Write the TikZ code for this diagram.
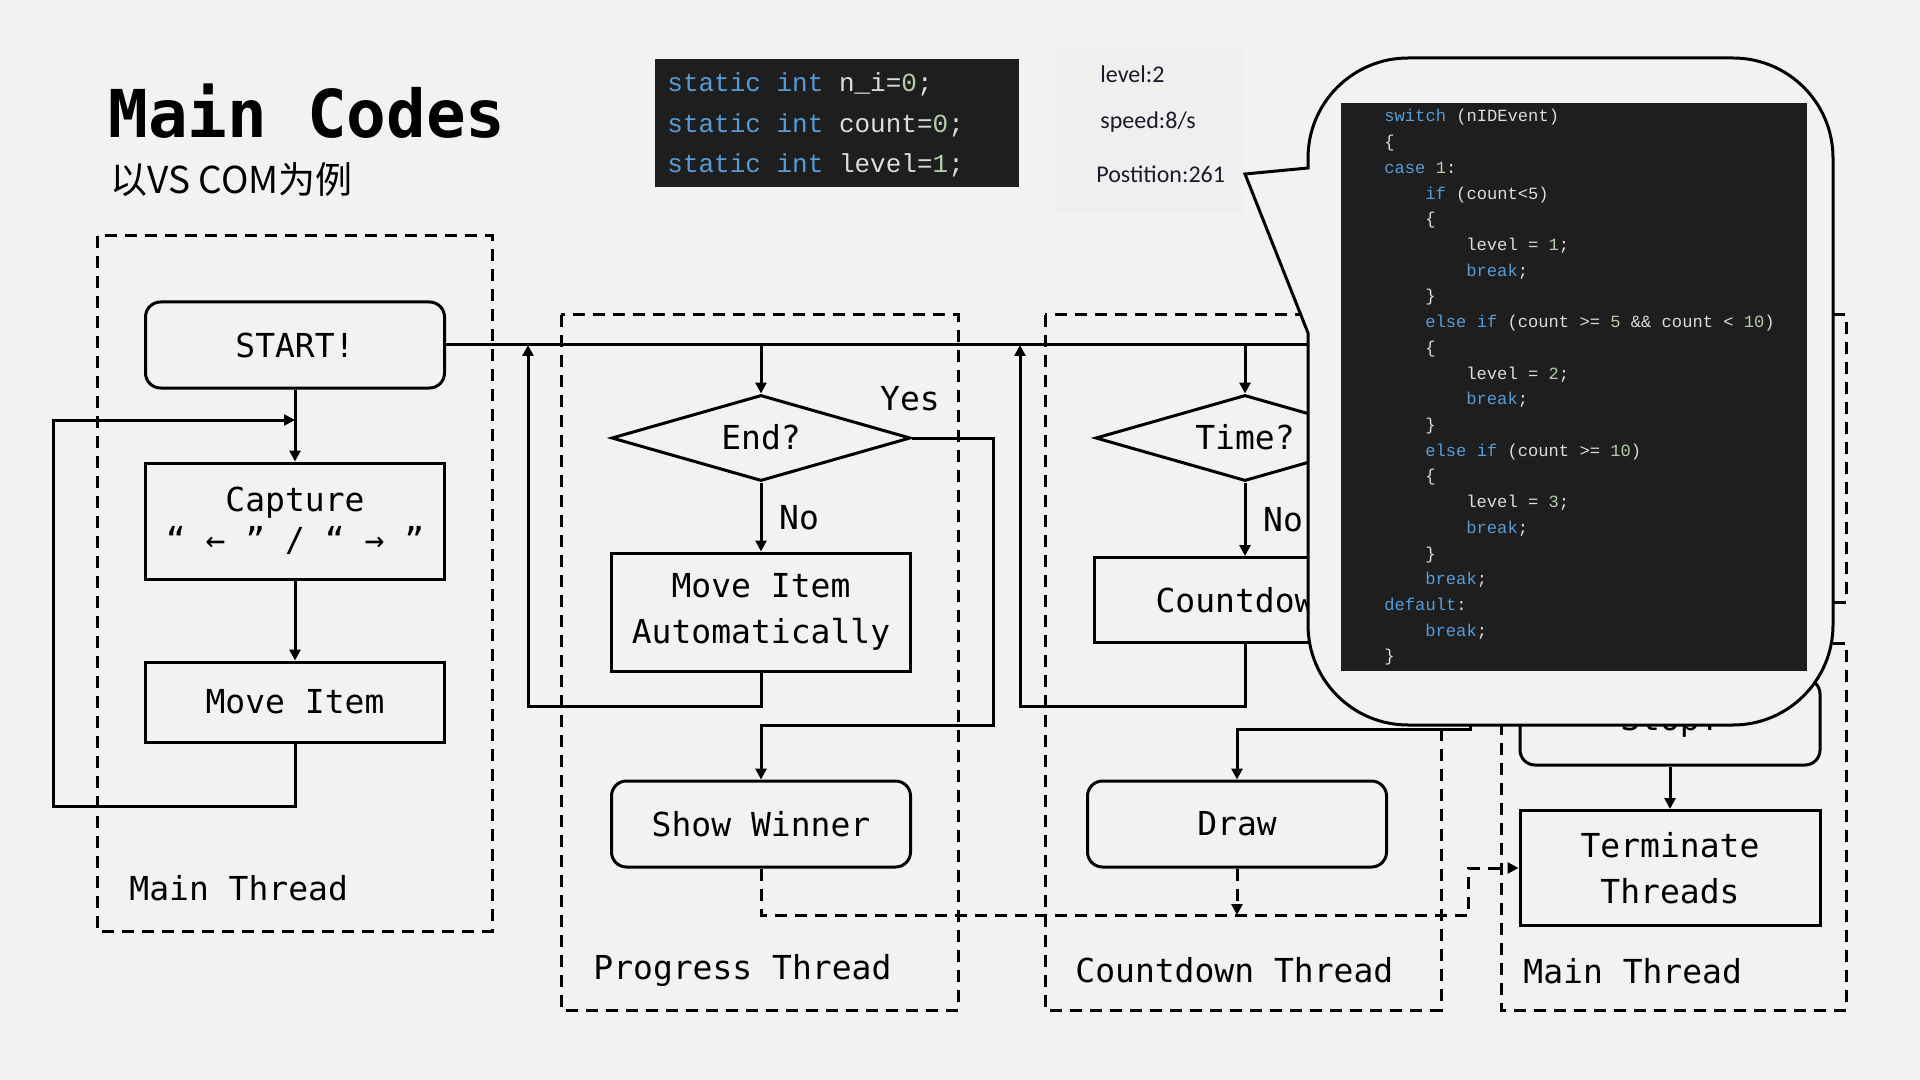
\documentclass[tikz,border=0pt]{standalone}
\usepackage{fontspec}
\usetikzlibrary{shapes.geometric,arrows.meta}
\newfontfamily\pix{DejaVu Sans Mono}
\newfontfamily\codef{Liberation Mono}
\newfontfamily\infof{Carlito}
\newfontfamily\cjk{Noto Sans CJK SC}
\definecolor{bg}{HTML}{F2F2F2}
\definecolor{codebg}{HTML}{1E1E1E}
\definecolor{kw}{HTML}{569CD6}
\definecolor{idf}{HTML}{DCDCDC}
\definecolor{numc}{HTML}{B5CEA8}
\definecolor{infobg}{HTML}{EFEFEF}
\definecolor{infotxt}{HTML}{1A1A2A}
\newcommand\kwc[1]{\textcolor{kw}{#1}}
\newcommand\nmc[1]{\textcolor{numc}{#1}}
\newcommand\dtext[1]{\makebox[0pt]{\raisebox{-0.36em}[0pt][0pt]{#1}}}
\tikzset{
  base/.style={font=\pix\fontsize{16.5}{23}\selectfont, text=black},
  boxn/.style={base, draw, line width=1.5pt, minimum width=149.5pt, inner sep=0pt, align=center},
  rboxn/.style={boxn, rounded corners=7.5pt},
  dia/.style={base, draw, line width=1.5pt, shape=diamond, inner sep=0pt, minimum width=149.5pt, minimum height=43pt},
  grp/.style={draw, line width=1.5pt, dash pattern=on 6pt off 4pt},
  conn/.style={draw, line width=1.5pt},
  arr/.style={conn, -{Triangle[length=5.5pt,width=5.5pt]}},
  darr/.style={conn, dash pattern=on 6pt off 4pt, -{Triangle[length=5.5pt,width=5.5pt]}},
  lbl/.style={base, inner sep=0pt},
  ctext/.style={font=\codef\fontsize{8.56}{10}\selectfont, text=idf, anchor=base west, inner sep=0pt},
  cbtext/.style={font=\codef\fontsize{13}{15}\selectfont, text=idf, anchor=base west, inner sep=0pt},
  itext/.style={font=\infof\fontsize{12}{14}\selectfont, text=infotxt, anchor=base west, inner sep=0pt},
}
\begin{document}
\begin{tikzpicture}[x=0.5pt,y=-0.5pt]
\fill[bg] (0,0) rectangle (1920,1080);
\useasboundingbox (0,0) rectangle (1920,1080);

% title
\node[font=\pix\bfseries\fontsize{33}{40}\selectfont, anchor=base west, inner sep=0pt] (title) at (108,138) {Main Codes};
\node[font=\cjk\fontsize{18.5}{22}\selectfont, anchor=base west, inner sep=0pt] (sub) at (110,194) {以VS COM为例};

% code box 1
\fill[codebg] (655,59) rectangle (1019,187);
\node[cbtext] (v1) at (667,92) {\kwc{static int} n\_i=\nmc{0};};
\node[cbtext] (v2) at (667,132.5) {\kwc{static int} count=\nmc{0};};
\node[cbtext] (v3) at (667,173) {\kwc{static int} level=\nmc{1};};

% info box
\fill[infobg] (1055,47) rectangle (1243,214);
\node[itext] (i1) at (1100,83) {level:2};
\node[itext] (i2) at (1100,129) {speed:8/s};
\node[itext] (i3) at (1096,183) {Postition:261};

% thread groups
\draw[grp] (97,236) rectangle (492,931);
\draw[grp] (561,315) rectangle (958,1010);
\draw[grp] (1045,315) rectangle (1441,1010);
\draw[grp] (1501,315) rectangle (1846,602);
\draw[grp] (1501,643) rectangle (1846,1010);

% main thread (left)
\node[rboxn, minimum height=43pt] (start) at (295,345) {START!};
\node[boxn, minimum height=58pt] (cap) at (295,521) {Capture\\[-3pt]“ ← ” / “ → ”};
\node[boxn, minimum height=40pt] (mi) at (295,702) {Move Item};
\node[lbl, anchor=west] (l1) at (129,888) {Main Thread};

% progress thread
\node[dia] (end) at (761,438) {\dtext{End?}};
\node[boxn, minimum height=59pt] (mia) at (761,612) {Move Item\\Automatically};
\node[rboxn, minimum height=43pt] (sw) at (761,824) {Show Winner};
\node[lbl] (yes) at (910,399) {Yes};
\node[lbl] (no1) at (799,518) {No};
\node[lbl, anchor=west] (l2) at (593,970) {Progress Thread};

% countdown thread
\node[dia] (time) at (1245,438) {\dtext{Time?}};
\node[boxn, minimum height=42.5pt, minimum width=151pt] (cd) at (1245,600) {Countdown};
\node[rboxn, minimum height=43pt] (drw) at (1237,824) {Draw};
\node[lbl] (no2) at (1283,520) {No};
\node[lbl, anchor=west] (l3) at (1075,970) {Countdown Thread};

% main thread (right)
\node[rboxn, minimum height=43pt, minimum width=150pt] (stop) at (1670,722) {Stop!};
\node[boxn, minimum height=57.5pt, minimum width=150pt] (term) at (1670,868) {Terminate\\Threads};
\node[lbl, anchor=west] (l4) at (1523,971) {Main Thread};

% helper coordinates
\coordinate (hid) at (1400,345);
\coordinate (j1) at (295,420);
\coordinate (loopL) at (53,420);
\coordinate (pj) at (528,345);
\coordinate (cj) at (1020,345);
\coordinate (ey) at (993,725);
\coordinate (ty) at (1470,729);
\coordinate (dl) at (1468,915);

% connectors
\draw[conn] (start.east) -- (hid);
\draw[arr] (start.south) -- (cap.north);
\draw[arr] (cap.south) -- (mi.north);
\draw[arr] (mi.south) -- ++(0,63) -| (loopL) -- (j1);

\draw[arr] (end.north |- start.east) -- (end.north);
\draw[arr] (end.south) -- (mia.north);
\draw[arr] (mia.south) -- ++(0,34) -| (pj);
\draw[arr] (end.east) -| (ey) -| (sw.north);

\draw[arr] (time.north |- start.east) -- (time.north);
\draw[arr] (time.south) -- (cd.north);
\draw[arr] (cd.south) -- ++(0,62) -| (cj);
\draw[arr] (time.east) -| (ty) -| (drw.north);

\draw[arr] (stop.south) -- (term.north);

\draw[darr] (sw.south) |- (dl) |- (term.west);
\draw[darr] (drw.south) -- (drw.south |- dl);

% callout
\draw[line width=1.5pt, fill=bg] (1308,333) [rounded corners=50pt] -- (1308,725) -- (1833,725) -- (1833,58) -- (1308,58) [sharp corners] -- (1308,168) -- (1245,174) -- cycle;

% code box 2
\fill[codebg] (1341,103) rectangle (1807,671);
\node[ctext] (c1) at (1384,122) {\kwc{switch} (nIDEvent)};
\node[ctext] (c2) at (1384,147.7) {\{};
\node[ctext] (c3) at (1384,173.4) {\kwc{case} \nmc{1}:};
\node[ctext] (c4) at (1425,199.1) {\kwc{if} (count<5)};
\node[ctext] (c5) at (1425,224.8) {\{};
\node[ctext] (c6) at (1466,250.6) {level = \nmc{1};};
\node[ctext] (c7) at (1466,276.3) {\kwc{break};};
\node[ctext] (c8) at (1425,302.0) {\}};
\node[ctext] (c9) at (1425,327.7) {\kwc{else if} (count >= \nmc{5} \&\& count < \nmc{10})};
\node[ctext] (c10) at (1425,353.4) {\{};
\node[ctext] (c11) at (1466,379.1) {level = \nmc{2};};
\node[ctext] (c12) at (1466,404.8) {\kwc{break};};
\node[ctext] (c13) at (1425,430.5) {\}};
\node[ctext] (c14) at (1425,456.2) {\kwc{else if} (count >= \nmc{10})};
\node[ctext] (c15) at (1425,481.9) {\{};
\node[ctext] (c16) at (1466,507.7) {level = \nmc{3};};
\node[ctext] (c17) at (1466,533.4) {\kwc{break};};
\node[ctext] (c18) at (1425,559.1) {\}};
\node[ctext] (c19) at (1425,584.8) {\kwc{break};};
\node[ctext] (c20) at (1384,610.5) {\kwc{default}:};
\node[ctext] (c21) at (1425,636.2) {\kwc{break};};
\node[ctext] (c22) at (1384,661.9) {\}};
\end{tikzpicture}
\end{document}
